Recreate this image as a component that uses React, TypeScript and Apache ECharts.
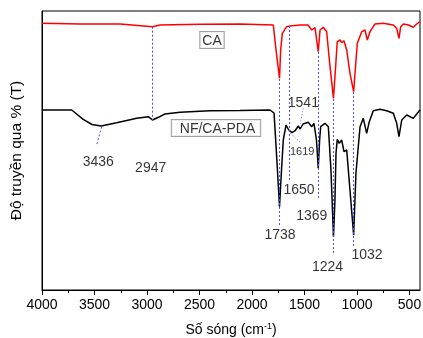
import React, { useEffect, useRef } from 'react';
import * as echarts from 'echarts';

const FONT = '"Liberation Sans", Arial, sans-serif';

// CA spectrum (wavenumber cm-1, relative transmittance)
const caWavenumber = [4000, 3638, 3257, 2947, 2876, 2495, 2114, 1797, 1771, 1738, 1727, 1711, 1670, 1638, 1543, 1467, 1431, 1400, 1369, 1352, 1321, 1289, 1257, 1224, 1210, 1188, 1162, 1146, 1124, 1098, 1067, 1032, 1019, 997, 955, 924, 902, 876, 829, 750, 654, 622, 600, 584, 559, 511, 464, 431, 400];
const caTransmittance = [266.7, 266, 266, 263.3, 265, 265.7, 266, 265, 240, 211.7, 240, 256.7, 263.3, 264, 265, 265, 260, 262.3, 238.3, 260, 262.7, 258.3, 223.3, 191.7, 213.3, 248.3, 250, 247.3, 249.3, 240, 216.7, 198.3, 216.7, 246.7, 258.3, 260, 250, 258.3, 266, 266.7, 265, 261.7, 251.7, 263.3, 266, 265, 262.7, 266, 268.3];

// NF/CA-PDA spectrum
const pdaWavenumber = [4000, 3717, 3607, 3524, 3436, 3289, 3098, 2988, 2947, 2892, 2829, 2686, 2400, 2114, 1829, 1790, 1765, 1738, 1719, 1702, 1676, 1650, 1619, 1590, 1559, 1541, 1514, 1464, 1431, 1410, 1386, 1369, 1356, 1346, 1305, 1273, 1248, 1224, 1210, 1200, 1188, 1169, 1146, 1124, 1098, 1067, 1032, 1010, 971, 940, 908, 883, 845, 781, 717, 654, 622, 600, 574, 526, 464, 400];
const pdaTransmittance = [180, 180, 170.7, 165.5, 164, 167.3, 171.7, 173.3, 170, 172.7, 176, 177.7, 179.3, 179.5, 180, 177, 133, 83.3, 120, 150, 165, 160, 157.3, 159.3, 164, 161, 166, 167.7, 163.3, 166.7, 150, 121.7, 150, 163.3, 166.7, 163.3, 120, 53.3, 90, 136.7, 150.7, 146.7, 150, 138.3, 140, 100, 55, 116.7, 163.3, 171.7, 156.7, 168.3, 179.3, 180.7, 179.3, 176.7, 166.7, 153.3, 170, 175, 171.7, 180];

const xMajorTicks = [4000, 3500, 3000, 2500, 2000, 1500, 1000, 500];
const xMinorTicks = [3750, 3250, 2750, 2250, 1750, 1250, 750];

// peak annotation labels
const peakLabels = ['3436', '2947', '1738', '1650', '1369', '1224', '1032', '1541', '1619'];
const peakLabelWn = [3464, 2965, 1733, 1552, 1431, 1281, 905, 1511, 1522];
const peakLabelT = [129, 122.7, 56, 101, 75, 24.3, 35.7, 188, 139];
const peakLabelSize = [14, 14, 14, 14, 14, 14, 14, 14, 11];

// vertical dashed guide lines (blue)
const guideWn = [2947, 1738, 1650, 1369, 1224, 1032];
const guideTop = [263.3, 211, 264, 238, 191, 198];
const guideBottom = [170, 64, 110, 90, 37, 42];

// slanted leader lines: [wn1, t1, wn2, t2]
const leaderBlue = [[3432, 163.3, 3479, 145]];
const leaderViolet = [[1511, 182, 1543, 165], [1638, 156.7, 1527, 146.7]];

// sample names
const sampleNames = ['CA', 'NF/CA-PDA'];
const sampleNameWn = [2381, 2343];
const sampleNameT = [250, 162];

const BLUE = { color: '#4d4dff', type: [2, 2], width: 1 };
const VIOLET = { color: '#c47cff', type: [1.5, 1.5], width: 1 };

export default function App() {
  const ref = useRef<HTMLDivElement>(null);
  useEffect(() => {
    const chart = echarts.init(ref.current!, null, { renderer: 'svg' });
    const markData: any[] = [];
    guideWn.forEach((w, i) => {
      markData.push([{ coord: [w, guideTop[i]], lineStyle: BLUE }, { coord: [w, guideBottom[i]] }]);
    });
    leaderBlue.forEach((l) => {
      markData.push([{ coord: [l[0], l[1]], lineStyle: BLUE }, { coord: [l[2], l[3]] }]);
    });
    leaderViolet.forEach((l) => {
      markData.push([{ coord: [l[0], l[1]], lineStyle: VIOLET }, { coord: [l[2], l[3]] }]);
    });
    const option: any = {
      animation: false,
      grid: {
        left: 42, right: 3, top: 11, bottom: 48, show: true, borderColor: '#000', borderWidth: 1,
        containLabel: false, outerBoundsMode: 'none',
      },
      xAxis: [
        {
          type: 'value', min: 400, max: 4000, inverse: true, position: 'bottom',
          axisLine: { show: true, lineStyle: { color: '#000', width: 1 } },
          axisTick: { show: true, customValues: xMajorTicks, length: 5, inside: false, lineStyle: { color: '#000' } },
          axisLabel: {
            customValues: xMajorTicks, margin: 7, fontSize: 14, color: '#000', fontFamily: FONT,
            formatter: (v: number) => String(v),
          },
          splitLine: { show: false },
          name: '{a|Số sóng (cm}{b|-1}{a|)}',
          nameLocation: 'middle', nameGap: 31,
          nameTextStyle: {
            rich: {
              a: { fontSize: 14, fontFamily: FONT, color: '#000', lineHeight: 16 },
              b: { fontSize: 9, fontFamily: FONT, color: '#000', verticalAlign: 'top', lineHeight: 16 },
            },
          },
        },
        {
          type: 'value', min: 400, max: 4000, inverse: true, position: 'bottom',
          axisLine: { show: false },
          axisTick: { show: true, customValues: xMinorTicks, length: 3, lineStyle: { color: '#000' } },
          axisLabel: { show: false },
          splitLine: { show: false },
        },
      ],
      yAxis: {
        type: 'value', min: 0, max: 279,
        axisLine: { show: true, lineStyle: { color: '#000' } },
        axisTick: { show: false }, axisLabel: { show: false }, splitLine: { show: false },
        name: 'Độ truyền qua % (T)', nameLocation: 'middle', nameGap: 19,
        nameTextStyle: { fontSize: 15.5, color: '#000', fontFamily: FONT },
      },
      series: [
        {
          type: 'line', name: 'CA', symbol: 'none', z: 3,
          data: caWavenumber.map((w, i) => [w, caTransmittance[i]]),
          lineStyle: { color: '#ff0000', width: 1.5 },
        },
        {
          type: 'line', name: 'NF/CA-PDA', symbol: 'none', z: 3,
          data: pdaWavenumber.map((w, i) => [w, pdaTransmittance[i]]),
          lineStyle: { color: '#000', width: 1.5 },
        },
        {
          type: 'line', name: 'guides', data: [], symbol: 'none', z: 6,
          markLine: {
            silent: true, symbol: ['none', 'none'], label: { show: false },
            lineStyle: BLUE, z: 6,
            emphasis: { disabled: true },
            data: markData,
          },
        },
        {
          type: 'scatter', symbolSize: 0, silent: true, z: 5,
          data: peakLabels.map((t, i) => ({
            value: [peakLabelWn[i], peakLabelT[i]],
            label: { formatter: t, fontSize: peakLabelSize[i] },
          })),
          label: { show: true, position: 'inside', color: '#000', fontFamily: FONT, fontSize: 14 },
        },
        {
          type: 'scatter', symbolSize: 0, silent: true, z: 5,
          data: sampleNames.map((t, i) => ({
            value: [sampleNameWn[i], sampleNameT[i]],
            label: { formatter: t, padding: i === 0 ? [0, 2, 0, 2] : [0, 5, 0, 8] },
          })),
          label: {
            show: true, position: 'inside', color: '#000', fontFamily: FONT, fontSize: 14,
            lineHeight: 16, borderColor: '#8a8a8a', borderWidth: 1, backgroundColor: '#fff',
          },
        },
      ],
    };
    chart.setOption(option);
    return () => chart.dispose();
  }, []);
  return <div ref={ref} style={{ position: 'fixed', left: 0, top: 0, width: 423, height: 338 }} />;
}
